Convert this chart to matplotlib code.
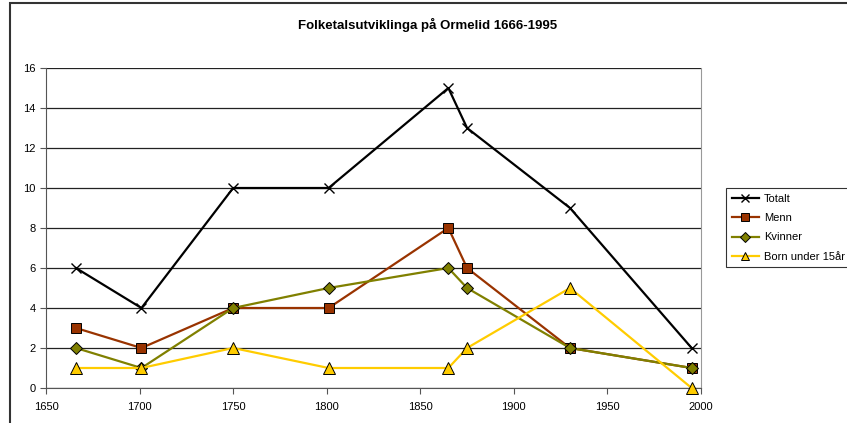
import matplotlib.pyplot as plt
from matplotlib.patches import Rectangle

years = [1666, 1701, 1750, 1801, 1865, 1875, 1930, 1995]
totalt = [6, 4, 10, 10, 15, 13, 9, 2]
menn = [3, 2, 4, 4, 8, 6, 2, 1]
kvinner = [2, 1, 4, 5, 6, 5, 2, 1]
born = [1, 1, 2, 1, 1, 2, 5, 0]

W, H = 847, 423
fig = plt.figure(figsize=(W / 100, H / 100), dpi=100)
plt.rcParams["font.family"] = ["Liberation Sans", "DejaVu Sans"]

# outer chart-area frame, cut off at right/bottom like the original
fig.patches.append(Rectangle((10 / W, -0.1), 1.2, (H - 3) / H + 0.1, transform=fig.transFigure,
                             fill=False, edgecolor="#333333", linewidth=1.5))

ax = fig.add_axes([46 / W, 1 - 388 / H, (701 - 46) / W, (388 - 68) / H])
ax.plot(years, totalt, color="black", marker="x", markersize=7, linewidth=1.6, label="Totalt", zorder=4)
ax.plot(years, menn, color="#993300", marker="s", markersize=7, markerfacecolor="#993300",
        markeredgecolor="black", markeredgewidth=0.7, linewidth=1.6, label="Menn", zorder=3)
ax.plot(years, kvinner, color="#808000", marker="D", markersize=6, markerfacecolor="#808000",
        markeredgecolor="black", markeredgewidth=0.7, linewidth=1.6, label="Kvinner", zorder=3)
ax.plot(years, born, color="#FFCC00", marker="^", markersize=8, markerfacecolor="#FFCC00",
        markeredgecolor="black", markeredgewidth=0.7, linewidth=1.6, label="Born under 15år", zorder=3)

ax.set_xlim(1650, 2000)
ax.set_ylim(0, 16)
ax.set_xticks(range(1650, 2001, 50))
ax.set_yticks(range(0, 17, 2))
ax.yaxis.grid(True, color="#222222", linewidth=0.9)
ax.set_axisbelow(True)
ax.tick_params(labelsize=8, length=4, color="#555555", direction="out")
ax.tick_params(axis="x", pad=6)
ax.spines["top"].set_visible(False)
ax.spines["right"].set_color("#999999")
ax.spines["left"].set_color("#555555")
ax.spines["bottom"].set_color("#555555")
for line in ax.lines:
    line.set_clip_on(False)

fig.text(428 / W, 1 - 25 / H, "Folketalsutviklinga på Ormelid 1666-1995",
         ha="center", va="center", fontsize=9.5, fontweight="bold")

leg = ax.legend(loc="upper left", bbox_to_anchor=(726 / W, 1 - 188 / H), bbox_transform=fig.transFigure,
                fontsize=8, frameon=True, fancybox=False, edgecolor="black", borderpad=0.5,
                handlelength=2.5, handletextpad=0.4, labelspacing=0.85, borderaxespad=0,
                markerscale=0.8)
leg.get_frame().set_linewidth(0.8)

fig.savefig("out.png", dpi=100)
